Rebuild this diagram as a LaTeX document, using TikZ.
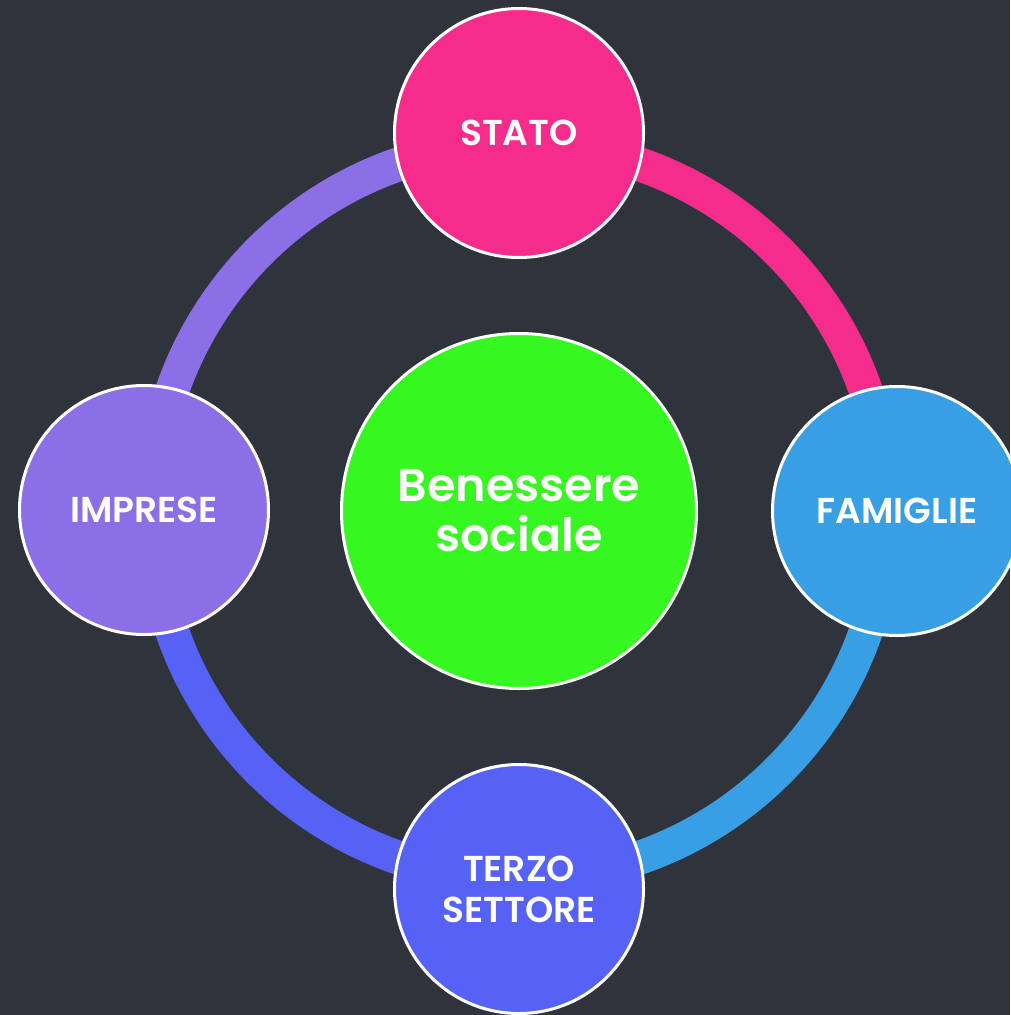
\documentclass[tikz,border=0pt]{standalone}
\usepackage{fontspec}
\setmainfont{Poppins}[BoldFont={* SemiBold}]
\definecolor{bgc}{HTML}{2E333C}
\definecolor{cpink}{HTML}{F52C8C}
\definecolor{cblue}{HTML}{389FE5}
\definecolor{cindigo}{HTML}{5662F6}
\definecolor{cpurple}{HTML}{8B6FE6}
\definecolor{cgreen}{HTML}{36F71F}
\tikzset{
  bubble/.style={circle, draw=white, line width=3pt, minimum size=249pt, inner sep=0pt,
    text=white, font=\fontsize{36}{41}\selectfont\bfseries, align=center},
  hub/.style={circle, draw=white, line width=3pt, minimum size=355pt, inner sep=0pt,
    fill=cgreen, text=white, font=\fontsize{46}{50}\selectfont\bfseries, align=center},
  ringarc/.style={line width=34pt}
}
\begin{document}
\begin{tikzpicture}[x=1pt,y=-1pt]
\fill[bgc] (0,0) rectangle (1010,1015);
\useasboundingbox (0,0) rectangle (1010,1015);
\coordinate (c) at (519,511);
% ring arcs (drawn first, behind the circles)
\draw[ringarc, cpink]   (c) ++(0,-367) arc[start angle=-90, end angle=0, radius=367];
\draw[ringarc, cblue]   (c) ++(367,0) arc[start angle=0, end angle=90, radius=367];
\draw[ringarc, cindigo] (c) ++(0,367) arc[start angle=90, end angle=180, radius=367];
\draw[ringarc, cpurple] (c) ++(-367,0) arc[start angle=180, end angle=270, radius=367];
% circles
\node[hub] (hub) at (c) {Benessere\\sociale};
\node[bubble, fill=cpink] (stato) at (519,133) {STATO};
\node[bubble, fill=cblue] (fam) at (897,511) {FAMIGLIE};
\node[bubble, fill=cindigo] (terzo) at (519,889) {TERZO\\SETTORE};
\node[bubble, fill=cpurple] (imp) at (144,510) {IMPRESE};
\end{tikzpicture}
\end{document}
